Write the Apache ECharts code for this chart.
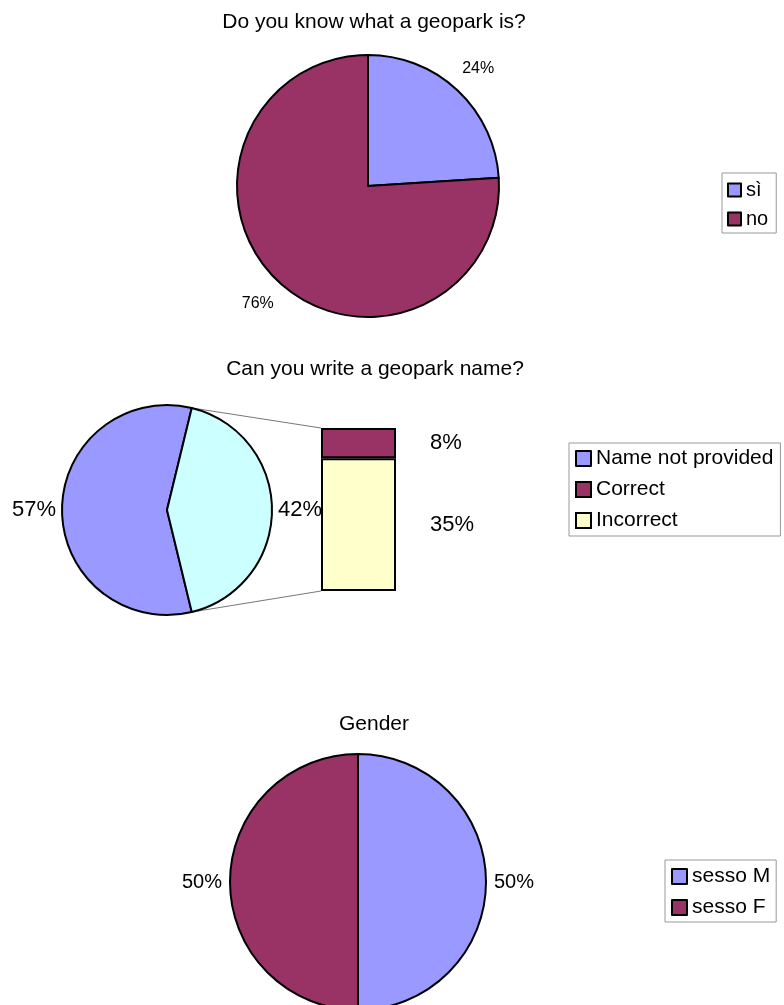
<!DOCTYPE html>
<html>
<head>
<meta charset="utf-8">
<script src="https://cdn.jsdelivr.net/npm/echarts@6/dist/echarts.min.js"></script>
<style>
  html, body { margin: 0; padding: 0; background: #fff; }
  #chart { width: 784px; height: 1005px; }
</style>
</head>
<body>
<div id="chart"></div>
<script>
// Survey answers, in percent
const knowNames = ['sì', 'no'];
const knowValues = [24, 76];

const nameNames = ['Name not provided', 'Name provided'];
const nameValues = [57, 42];
const detailNames = ['Correct', 'Incorrect'];
const detailValues = [8, 35];

const genderNames = ['sesso M', 'sesso F'];
const genderValues = [50, 50];

const titles = ['Do you know what a geopark is?', 'Can you write a geopark name?', 'Gender'];

const BLUE = '#9999FF', PLUM = '#993366', CYAN = '#CCFFFF', CREAM = '#FFFFCC';
const FONT = 'Liberation Sans, Arial, sans-serif';

const sectorStyle = { borderColor: '#000', borderWidth: 2 };

function pieData(names, values, colors) {
  return names.map((n, i) => ({ name: n, value: values[i], itemStyle: { color: colors[i] } }));
}

// visible pie plus a transparent ring that only carries the percentage labels
function pieWithLabels(names, values, colors, center, r, labelR, startAngle, labelSize) {
  return [
    {
      type: 'pie', center: center, radius: [0, r], startAngle: startAngle,
      clockwise: true, silent: true, animation: false,
      label: { show: false }, labelLine: { show: false },
      itemStyle: sectorStyle,
      data: pieData(names, values, colors)
    },
    {
      type: 'pie', center: center, radius: [r, 2 * labelR - r], startAngle: startAngle,
      clockwise: true, silent: true, animation: false,
      itemStyle: { color: 'rgba(0,0,0,0)', borderWidth: 0 },
      label: {
        show: true, position: 'inside', formatter: '{c}%',
        color: '#000', fontFamily: FONT, fontSize: labelSize
      },
      labelLine: { show: false },
      data: names.map((n, i) => ({ name: n, value: values[i] }))
    }
  ];
}

const nameTotal = nameValues.reduce((a, b) => a + b, 0);
// the "name provided" slice is centred on the right, facing the detail bar
const nameStart = -(nameValues[1] / nameTotal * 360) / 2;
const detailTotal = detailValues.reduce((a, b) => a + b, 0);

const pie2Center = [167, 510], pie2R = 105;

const legendBase = {
  orient: 'vertical', icon: 'rect',
  borderColor: '#999', borderWidth: 1,
  itemStyle: { borderColor: '#000', borderWidth: 2 },
  textStyle: { color: '#000', fontFamily: FONT, fontSize: 20 },
  selectedMode: false
};

const option = {
  backgroundColor: '#fff',
  animation: false,
  title: [
    { text: titles[0], left: 369, top: 7, textAlign: 'center' },
    { text: titles[1], left: 370, top: 354, textAlign: 'center' },
    { text: titles[2], left: 369, top: 709, textAlign: 'center' }
  ].map(t => Object.assign(t, { textStyle: { fontFamily: FONT, fontSize: 21, fontWeight: 'normal', color: '#000' } })),
  legend: [
    Object.assign({}, legendBase, {
      data: knowNames, left: 722, top: 173, padding: [7, 8, 4, 5],
      itemGap: 9, itemWidth: 13, itemHeight: 13
    }),
    Object.assign({}, legendBase, {
      data: [nameNames[0]].concat(detailNames), left: 569, top: 443, padding: [5, 7, 5, 6],
      itemGap: 10, itemWidth: 15, itemHeight: 15,
      textStyle: { color: '#000', fontFamily: FONT, fontSize: 21 }
    }),
    Object.assign({}, legendBase, {
      data: genderNames, left: 665, top: 860, padding: [6, 6, 4, 6],
      itemGap: 10, itemWidth: 15, itemHeight: 15,
      textStyle: { color: '#000', fontFamily: FONT, fontSize: 21 }
    })
  ],
  grid: { left: 321, top: 428, width: 75, height: 163, containLabel: false },
  xAxis: { type: 'category', data: ['detail'], show: false },
  yAxis: { type: 'value', min: 0, max: detailTotal, show: false },
  series: [].concat(
    pieWithLabels(knowNames, knowValues, [BLUE, PLUM], [368, 186], 131, 158, 90, 16),
    pieWithLabels(nameNames, nameValues, [BLUE, CYAN], pie2Center, pie2R, 130, nameStart, 22),
    pieWithLabels(genderNames, genderValues, [BLUE, PLUM], [358, 882], 128, 153, 90, 20),
    [
      {
        type: 'bar', name: detailNames[1], stack: 'detail', barWidth: '100%',
        data: [detailValues[1]], silent: true,
        itemStyle: { color: CREAM, borderColor: '#000', borderWidth: 2 },
        label: { show: true, position: 'right', distance: 34, formatter: '{c}%', color: '#000', fontFamily: FONT, fontSize: 22 }
      },
      {
        type: 'bar', name: detailNames[0], stack: 'detail', barWidth: '100%',
        data: [detailValues[0]], silent: true,
        itemStyle: { color: PLUM, borderColor: '#000', borderWidth: 2 },
        label: { show: true, position: 'right', distance: 34, formatter: '{c}%', color: '#000', fontFamily: FONT, fontSize: 22 }
      }
    ]
  )
};

const chart = echarts.init(document.getElementById('chart'), null, { renderer: 'canvas' });
chart.setOption(option);

// connector lines from the split points of the pie to the corners of the detail bar
const a = -nameStart * Math.PI / 180;
const sx = pie2Center[0] + pie2R * Math.sin(Math.PI / 2 - a);
const syTop = pie2Center[1] - pie2R * Math.cos(Math.PI / 2 - a);
const syBot = pie2Center[1] + pie2R * Math.cos(Math.PI / 2 - a);
const barLeft = 321;
const barTop = chart.convertToPixel({ yAxisIndex: 0 }, detailTotal);
const barBottom = chart.convertToPixel({ yAxisIndex: 0 }, 0);
chart.setOption({
  graphic: [
    { type: 'line', shape: { x1: sx, y1: syTop, x2: barLeft, y2: barTop }, style: { stroke: '#777', lineWidth: 1 }, z: 1 },
    { type: 'line', shape: { x1: sx, y1: syBot, x2: barLeft, y2: barBottom }, style: { stroke: '#777', lineWidth: 1 }, z: 1 }
  ]
});
</script>
</body>
</html>
